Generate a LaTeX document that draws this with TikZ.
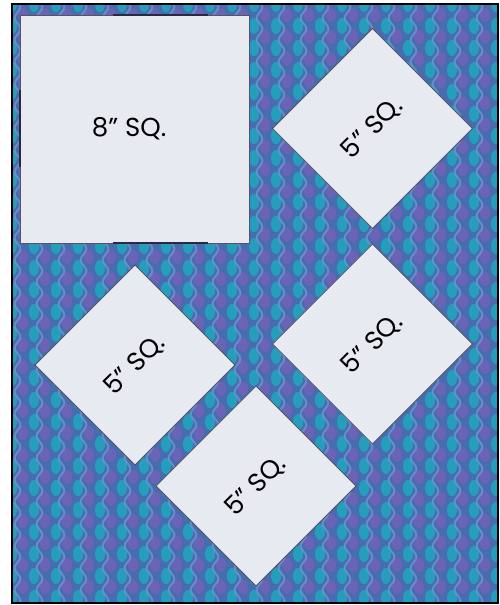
\documentclass[tikz,border=0pt]{standalone}
\usepackage{fontspec}
\setmainfont{Poppins}
\usetikzlibrary{calc, decorations.pathmorphing}

\definecolor{fabric}{RGB}{72,108,176}
\definecolor{bead}{RGB}{34,164,190}
\definecolor{plum}{RGB}{112,98,184}
\definecolor{wave}{RGB}{112,156,214}
\definecolor{paper}{RGB}{232,234,242}
\definecolor{edge}{RGB}{85,85,95}
\definecolor{mark}{RGB}{40,42,62}

\tikzset{
  piece/.style={draw=edge, line width=0.6pt, fill=paper, inner sep=0pt, font=\fontsize{19.5}{22}\selectfont},
  bigsq/.style={piece, minimum width=171.75pt, minimum height=171pt},
  smallsq/.style={piece, rotate=45, minimum size=106pt},
  seam/.style={draw=mark, line width=1.6pt},
  ripple/.style={draw=wave, line width=1.5pt, opacity=0.7, decorate, decoration={snake, segment length=16.5pt, amplitude=2.2pt}}
}

\begin{document}
\begin{tikzpicture}[x=0.75pt, y=-0.75pt]
\useasboundingbox (0,0) rectangle (499,605);

% fabric
\begin{scope}
\clip (12,4) rectangle (498,603);
\fill[fabric] (12,4) rectangle (498,603);
\foreach \i in {0,...,22} {
  \foreach \j in {0,...,27} {
    \fill[plum, opacity=0.85] (23+22*\i, 15+22*\j) ellipse (5 and 7);
    \fill[bead, opacity=0.9] (12+22*\i, 4+22*\j) ellipse (5 and 8);
  }
  \draw[ripple] (17.5+22*\i, 0) -- (17.5+22*\i, 610);
}
\end{scope}
\draw[black, line width=0.8pt] (12,4) rectangle (498,603);

% pieces
\node[bigsq] (big) at (134.5,129) {\hspace*{-8pt}8” SQ.};
\node[smallsq] (sqa) at (372.5,128.5) {5” SQ.};
\node[smallsq] (sqb) at (135,365) {5” SQ.};
\node[smallsq] (sqc) at (372.5,344) {5” SQ.};
\node[smallsq] (sqd) at (256,486) {5” SQ.};

% dark marks on the big square
\draw[seam] ($(big.north west)!0.406!(big.north east)$) -- ($(big.north west)!0.82!(big.north east)$);
\draw[seam] ($(big.south west)!0.406!(big.south east)$) -- ($(big.south west)!0.82!(big.south east)$);
\draw[seam] ($(big.north west)!0.33!(big.south west)$) -- ($(big.north west)!0.667!(big.south west)$);
\end{tikzpicture}
\end{document}
